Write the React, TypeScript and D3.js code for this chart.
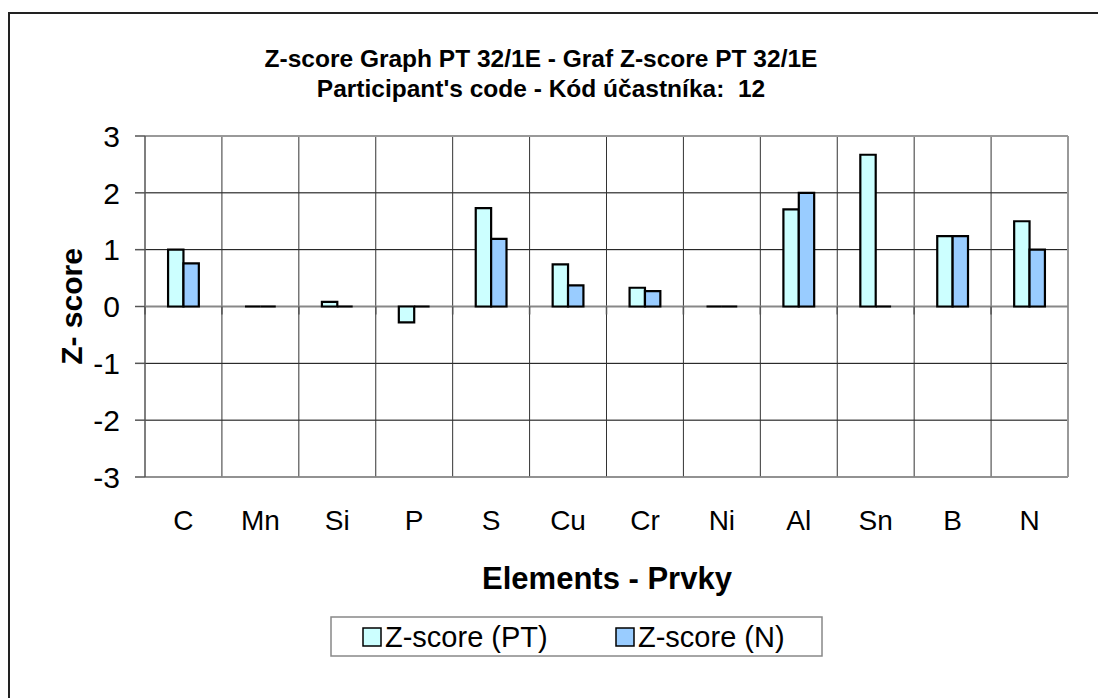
import React from 'react';
import * as d3 from 'd3';

const elements = ['C', 'Mn', 'Si', 'P', 'S', 'Cu', 'Cr', 'Ni', 'Al', 'Sn', 'B', 'N'];
const seriesNames = ['Z-score (PT)', 'Z-score (N)'];
const zScorePT = [1.0, 0, 0.08, -0.28, 1.73, 0.74, 0.33, 0, 1.71, 2.67, 1.24, 1.5];
const zScoreN = [0.76, 0, 0, 0, 1.19, 0.37, 0.27, 0, 2.0, 0, 1.24, 1.0];
const yTicks = [3, 2, 1, 0, -1, -2, -3];
const seriesColors = ['#CCFFFF', '#99CCFF'];

const W = 1098;
const H = 698;
const FONT = 'Arial, "Liberation Sans", sans-serif';

const App: React.FC = () => {
  const left = 145, right = 1068, top = 136, bottom = 477;

  const x = d3.scaleBand<string>().domain(elements).range([left, right]).paddingInner(0).paddingOuter(0);
  const y = d3.scaleLinear().domain([-3, 3]).range([bottom, top]);

  // gap width 300% -> each bar is a fifth of the category
  const barW = x.bandwidth() / 5;
  const xs = d3.scaleBand<string>().domain(seriesNames).range([0, barW * 2]);
  const groupOffset = (x.bandwidth() - barW * 2) / 2;

  const seriesData = [zScorePT, zScoreN];

  // closed outline so zero-height bars still show as a flat line
  const barPath = (bx: number, v: number) => {
    const p = d3.path();
    const y0 = y(0), y1 = y(v);
    p.moveTo(bx, y0);
    p.lineTo(bx, y1);
    p.lineTo(bx + barW, y1);
    p.lineTo(bx + barW, y0);
    p.closePath();
    return p.toString();
  };

  return (
    <div style={{ position: 'fixed', left: 0, top: 0, width: W, height: H, overflow: 'hidden', background: '#fff' }}>
      <svg width={W} height={H} style={{ display: 'block' }} fontFamily={FONT}>
        <rect x={0} y={0} width={W} height={H} fill="#fff" />
        {/* chart area border */}
        <rect x={9} y={13} width={W + 20} height={H + 20} fill="none" stroke="#222" strokeWidth={2} />

        {/* title */}
        <text x={541} y={67} textAnchor="middle" fontSize={24.5} fontWeight="bold">
          Z-score Graph PT 32/1E - Graf Z-score PT 32/1E
        </text>
        <text x={541} y={97} textAnchor="middle" fontSize={24.5} fontWeight="bold">
          {"Participant's code - Kód účastníka:\u00A0 12"}
        </text>

        {/* horizontal gridlines */}
        {yTicks.filter(t => t !== 0 && t !== 3).map(t => (
          <line key={'h' + t} x1={left} x2={right} y1={y(t)} y2={y(t)} stroke="#000" strokeWidth={1} />
        ))}
        {/* vertical category separators */}
        {elements.slice(1).map(e => (
          <line key={'v' + e} x1={x(e)!} x2={x(e)!} y1={top} y2={bottom} stroke="#333" strokeWidth={1} />
        ))}
        {/* plot border top/right */}
        <line x1={left} x2={right} y1={top} y2={top} stroke="#999" strokeWidth={2} />
        <line x1={right} x2={right} y1={top} y2={bottom} stroke="#999" strokeWidth={2} />
        <line x1={left} x2={right} y1={bottom} y2={bottom} stroke="#999" strokeWidth={1.5} />

        {/* y axis */}
        <line x1={left} x2={left} y1={top} y2={bottom} stroke="#555" strokeWidth={1.5} />
        {yTicks.map(t => (
          <g key={'yt' + t}>
            <line x1={left - 10} x2={left} y1={y(t)} y2={y(t)} stroke="#555" strokeWidth={1.5} />
            <text x={120} y={y(t)} dy="0.36em" textAnchor="end" fontSize={30}>
              {t}
            </text>
          </g>
        ))}

        {/* x axis at zero */}
        <line x1={left} x2={right} y1={y(0)} y2={y(0)} stroke="#888" strokeWidth={2} />
        {elements.map(e => (
          <line key={'xt' + e} x1={x(e)!} x2={x(e)!} y1={y(0)} y2={y(0) + 8} stroke="#555" strokeWidth={1.5} />
        ))}

        {/* bars */}
        {seriesData.map((vals, si) =>
          vals.map((v, i) => {
            const bx = x(elements[i])! + groupOffset + xs(seriesNames[si])!;
            return (
              <path
                key={si + '-' + i}
                d={barPath(bx, v)}
                fill={seriesColors[si]}
                stroke="#000"
                strokeWidth={2.2}
              />
            );
          })
        )}

        {/* x tick labels */}
        {elements.map(e => (
          <text key={'xl' + e} x={x(e)! + x.bandwidth() / 2} y={530} textAnchor="middle" fontSize={28}>
            {e}
          </text>
        ))}

        {/* axis titles */}
        <text x={607} y={589} textAnchor="middle" fontSize={31} fontWeight="bold">
          Elements - Prvky
        </text>
        <text transform={`translate(82, ${(top + bottom) / 2}) rotate(-90)`} textAnchor="middle" fontSize={30} fontWeight="bold">
          Z- score
        </text>

        {/* legend */}
        <rect x={331} y={617} width={491} height={39} fill="#fff" stroke="#888" strokeWidth={1.5} />
        {seriesNames.map((s, i) => {
          const lx = 363 + i * 253;
          return (
            <g key={'lg' + i}>
              <rect x={lx} y={628} width={18} height={18} fill={seriesColors[i]} stroke="#000" strokeWidth={1.5} />
              <text x={lx + 22} y={647} fontSize={29}>
                {s}
              </text>
            </g>
          );
        })}
      </svg>
    </div>
  );
};

export default App;
